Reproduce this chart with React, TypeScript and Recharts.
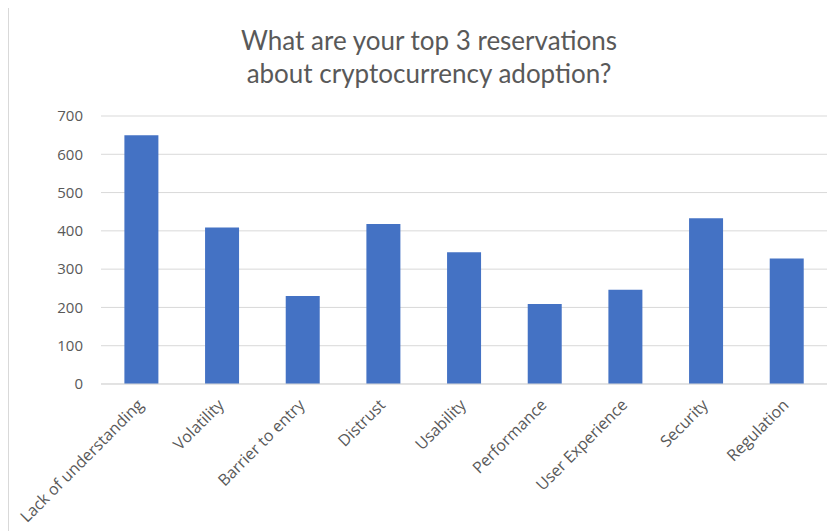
import { BarChart, Bar, XAxis, YAxis, CartesianGrid } from "recharts"

// reservations about crypto adoption
const categories = [
  "Lack of understanding",
  "Volatility",
  "Barrier to entry",
  "Distrust",
  "Usability",
  "Performance",
  "User Experience",
  "Security",
  "Regulation",
]
const counts = [650, 409, 230, 418, 344, 209, 246, 433, 328]
const yTicks = [0, 100, 200, 300, 400, 500, 600, 700]

const data = categories.map((name, i) => ({ name, value: counts[i] }))

const TITLE_FONT = "Lato, sans-serif"
const FONT = "'Open Sans', sans-serif"
const GRAY = "#595959"

function SlantTick(props: any) {
  const { x, y, payload } = props
  const ax = x + 3
  const ay = y + 14
  return (
    <text
      x={ax}
      y={ay}
      textAnchor="end"
      fill={GRAY}
      fontSize={16}
      fontFamily={FONT}
      transform={`rotate(-45, ${ax}, ${ay})`}
    >
      {payload.value}
    </text>
  )
}

export default function App() {
  return (
    <div
      style={{
        position: "relative",
        width: 830,
        height: 525,
        marginTop: -2,
        borderLeft: "1.5px solid #d9d9d9",
        borderTop: "1.5px solid #d9d9d9",
        boxSizing: "border-box",
        background: "#fff",
      }}
    >
      <div
        style={{
          position: "absolute",
          top: 17,
          left: 0,
          width: 840,
          textAlign: "center",
          fontFamily: TITLE_FONT,
          fontSize: 26,
          lineHeight: "33px",
          color: GRAY,
        }}
      >
        What are your top 3 reservations
        <br />
        about cryptocurrency adoption?
      </div>
      <div style={{ position: "absolute", top: 0, left: 0 }}>
        <BarChart
          width={828}
          height={523}
          data={data}
          margin={{ top: 109, right: 10, left: 0, bottom: 0 }}
          barCategoryGap="29%"
        >
          <CartesianGrid vertical={false} stroke="#d9d9d9" />
          <XAxis
            dataKey="name"
            interval={0}
            tickLine={false}
            axisLine={{ stroke: "#d9d9d9" }}
            height={146}
            tick={<SlantTick />}
          />
          <YAxis
            domain={[0, 700]}
            ticks={yTicks}
            width={92}
            axisLine={false}
            tickLine={false}
            tickSize={0}
            tickMargin={18}
            tick={{ fill: GRAY, fontSize: 15, fontFamily: FONT }}
          />
          <Bar dataKey="value" fill="#4472C4" isAnimationActive={false} />
        </BarChart>
      </div>
    </div>
  )
}
